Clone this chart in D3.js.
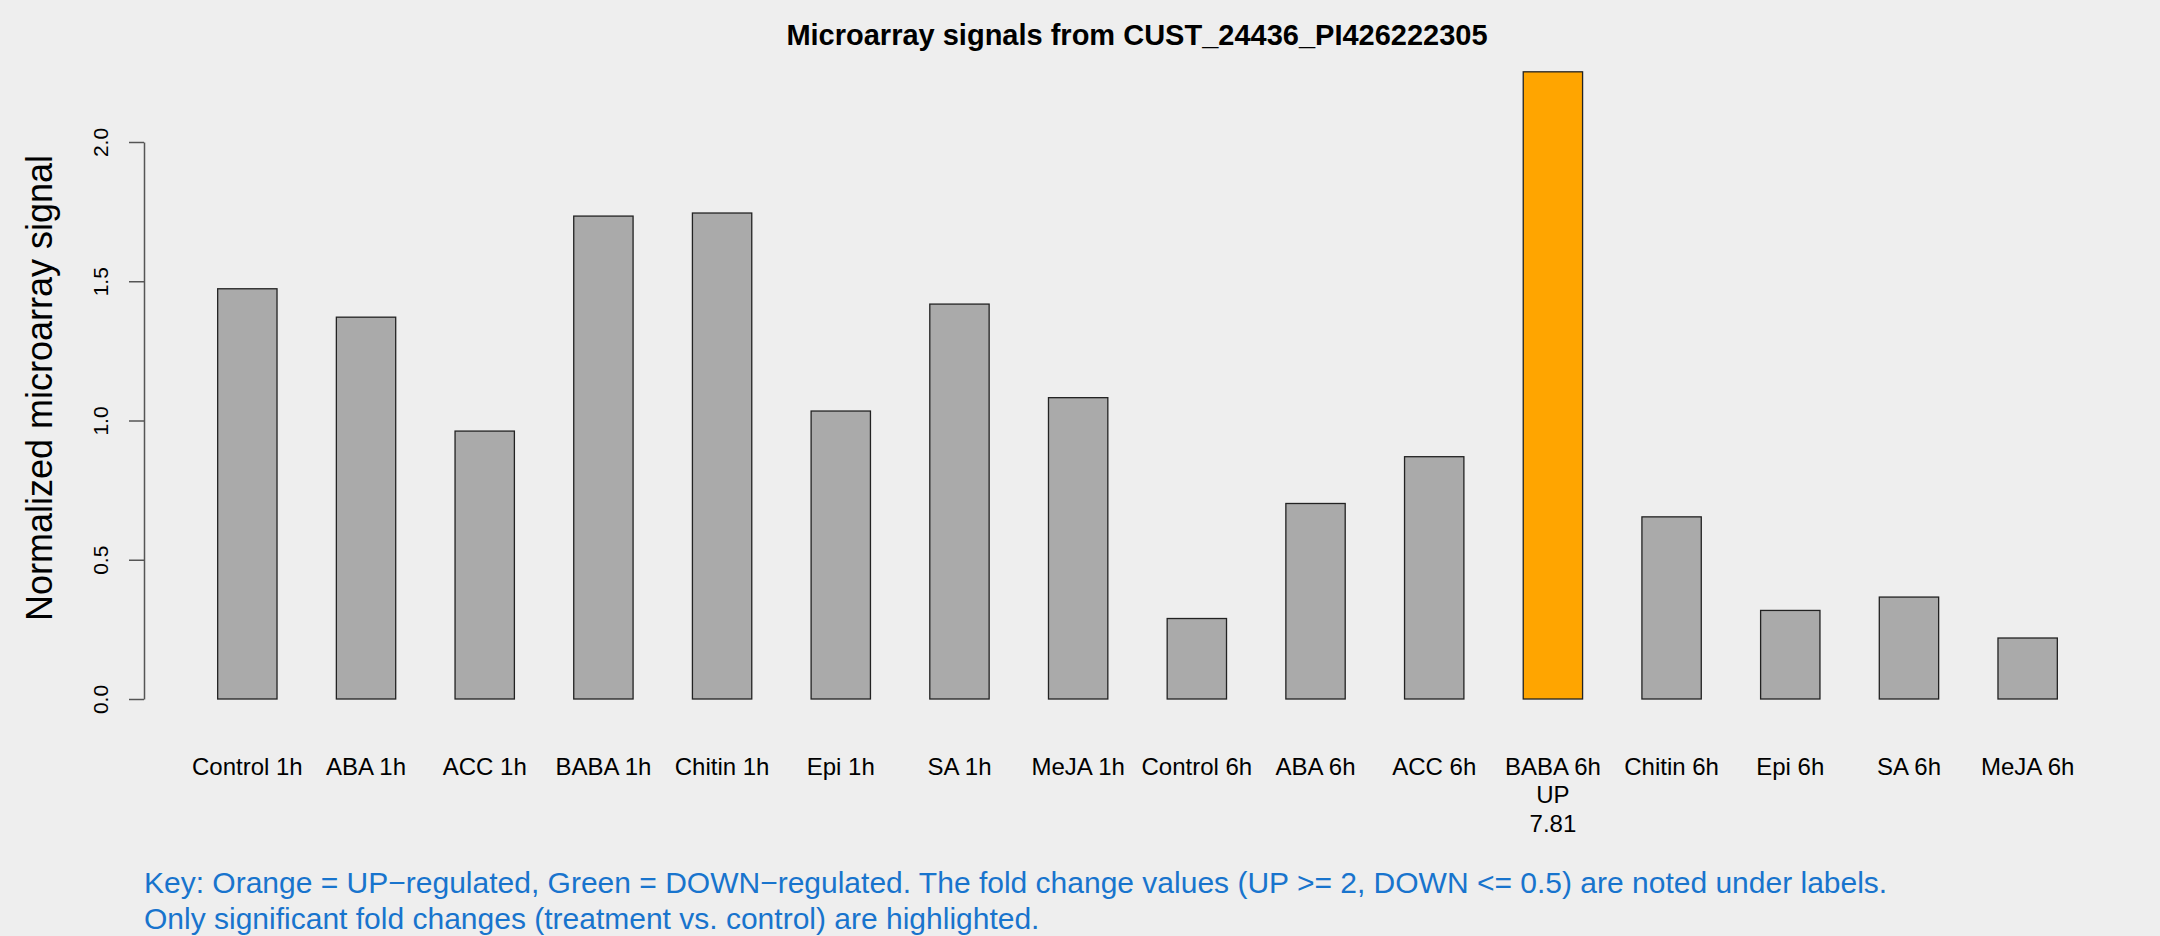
<!DOCTYPE html>
<html>
<head>
<meta charset="utf-8">
<script src="https://cdn.jsdelivr.net/npm/d3@7"></script>
<style>
  body { margin: 0; padding: 0; overflow: hidden; background: #eeeeee; }
  text { font-family: "Liberation Sans", Arial, sans-serif; }
</style>
</head>
<body>
<script>
// values
const categories = ["Control 1h","ABA 1h","ACC 1h","BABA 1h","Chitin 1h","Epi 1h","SA 1h","MeJA 1h",
                    "Control 6h","ABA 6h","ACC 6h","BABA 6h","Chitin 6h","Epi 6h","SA 6h","MeJA 6h"];
const signals = [1.473,1.371,0.962,1.734,1.745,1.034,1.418,1.082,
                 0.289,0.702,0.870,2.252,0.654,0.318,0.366,0.219];
const regulation = ["","","","","","","","","","","","UP","","","",""];
const foldChange = ["","","","","","","","","","","","7.81","","","",""];
const yTicks = [0, 0.5, 1.0, 1.5, 2.0];

const W = 2160, H = 936;
const svg = d3.select("body").append("svg").attr("width", W).attr("height", H);
svg.append("rect").attr("width", W).attr("height", H).attr("fill", "#eeeeee");

const x = d3.scaleBand().domain(categories).range([188, 2087]).paddingInner(0.5).paddingOuter(0.25);
const y = d3.scaleLinear().domain([0, 2]).range([699, 142]);

const colour = (i) => regulation[i] === "UP" ? "#ffa500" : (regulation[i] === "DOWN" ? "#2e8b57" : "#aaaaaa");

// bars
svg.append("g").selectAll("rect").data(signals).enter().append("rect")
  .attr("x", (d, i) => x(categories[i]))
  .attr("y", d => y(d))
  .attr("width", x.bandwidth())
  .attr("height", d => y(0) - y(d))
  .attr("fill", (d, i) => colour(i))
  .attr("stroke", "#222")
  .attr("stroke-width", 1.3);

// y axis
const yAxis = svg.append("g").attr("transform", "translate(144,0)")
  .call(d3.axisLeft(y).tickValues(yTicks).tickFormat(d3.format(".1f")).tickSize(15).tickSizeOuter(0));
yAxis.select(".domain").attr("stroke", "#555").attr("stroke-width", 1.5);
yAxis.selectAll(".tick line").attr("stroke", "#555").attr("stroke-width", 1.5);
yAxis.selectAll(".tick text")
  .attr("x", null).attr("dy", null)
  .attr("transform", "translate(-36,0) rotate(-90)")
  .attr("text-anchor", "middle")
  .attr("font-size", 21)
  .attr("fill", "#000")
  .style("font-family", "'Liberation Sans', Arial, sans-serif");

// y label
svg.append("text")
  .attr("transform", "translate(52,388) rotate(-90)")
  .attr("text-anchor", "middle")
  .attr("font-size", 36)
  .text("Normalized microarray signal");

// title
svg.append("text")
  .attr("x", 1137).attr("y", 45)
  .attr("text-anchor", "middle")
  .attr("font-size", 29)
  .attr("font-weight", "bold")
  .text("Microarray signals from CUST_24436_PI426222305");

// category labels with regulation notes
const lab = svg.append("g").selectAll("g").data(categories).enter().append("g")
  .attr("transform", d => `translate(${x(d) + x.bandwidth() / 2},0)`);
lab.append("text").attr("y", 775).attr("text-anchor", "middle").attr("font-size", 24).text(d => d);
lab.append("text").attr("y", 803).attr("text-anchor", "middle").attr("font-size", 24).text((d, i) => regulation[i]);
lab.append("text").attr("y", 832).attr("text-anchor", "middle").attr("font-size", 24).text((d, i) => foldChange[i]);

// key
const keyLines = [
  "Key: Orange = UP\u2212regulated, Green = DOWN\u2212regulated. The fold change values (UP >= 2, DOWN <= 0.5) are noted under labels.",
  "Only significant fold changes (treatment vs. control) are highlighted."
];
svg.append("g").selectAll("text").data(keyLines).enter().append("text")
  .attr("x", 144)
  .attr("y", (d, i) => 893 + i * 36)
  .attr("font-size", 30)
  .attr("fill", "#1874cd")
  .text(d => d);
</script>
</body>
</html>
